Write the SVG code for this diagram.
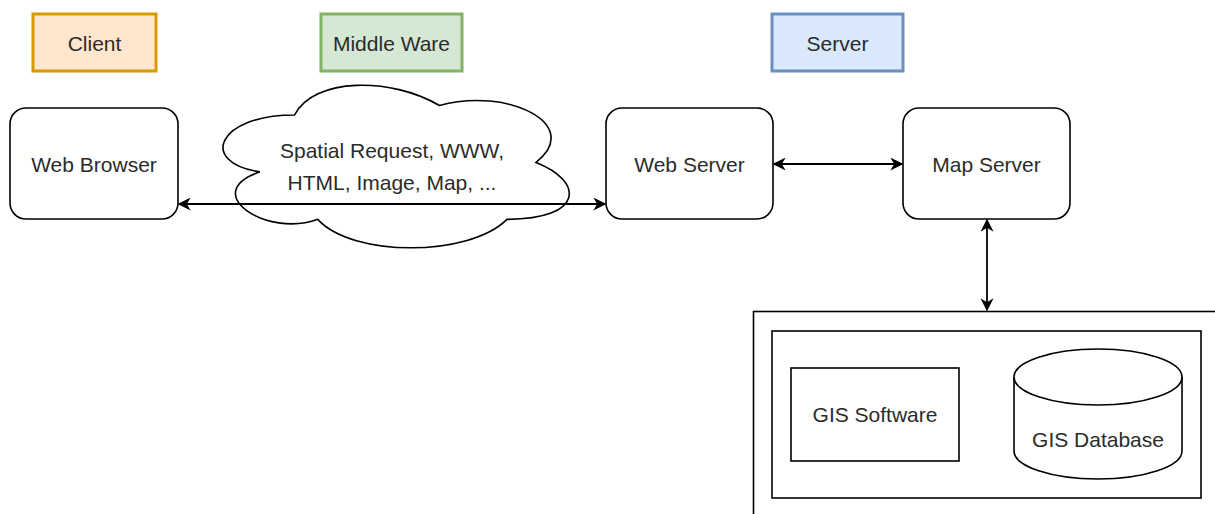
<svg xmlns="http://www.w3.org/2000/svg" width="1215" height="514" viewBox="0 0 1215 514">
  <style>
    text { font-family: "Liberation Sans", Arial, sans-serif; font-size: 21px; fill: #2b2b2b; text-anchor: middle; dominant-baseline: central; }
    .node { fill: #ffffff; stroke: #000000; stroke-width: 1.6; }
    .legend { stroke-width: 3; }
    .edge { fill: none; stroke: #000000; stroke-width: 1.8; }
  </style>
  <defs>
    <marker id="arrow" viewBox="0 0 10 10" refX="9" refY="5" markerWidth="13" markerHeight="13" markerUnits="userSpaceOnUse" orient="auto-start-reverse">
      <path d="M0,0 L10,5 L0,10 L3,5 Z" fill="#000000"/>
    </marker>
  </defs>
  <rect width="1215" height="514" fill="#ffffff"/>

  <!-- Tier legend -->
  <g id="legend-client">
    <rect class="legend" x="33" y="14" width="123" height="57" fill="#ffe6cc" stroke="#d79b00"/>
    <text x="94.5" y="43">Client</text>
  </g>
  <g id="legend-middleware">
    <rect class="legend" x="321" y="14" width="141" height="57" fill="#d5e8d4" stroke="#82b366"/>
    <text x="391.5" y="43">Middle Ware</text>
  </g>
  <g id="legend-server">
    <rect class="legend" x="772" y="14" width="131" height="57" fill="#dae8fc" stroke="#6c8ebf"/>
    <text x="837.5" y="43">Server</text>
  </g>

  <!-- Main nodes -->
  <g id="web-browser">
    <rect class="node" x="10" y="108" width="168" height="111" rx="16"/>
    <text x="94" y="164">Web Browser</text>
  </g>
  <g id="middleware-cloud">
    <path class="node" vector-effect="non-scaling-stroke" transform="translate(395,166.5) scale(1.104,1.164) translate(-398.5,-170)" d="M307.5,125.75 C237.5,125.75 220,166.5 276,174.65 C220,192.58 283,231.7 328.5,215.4 C360,248 465,248 500,215.4 C570,215.4 570,182.8 526.25,166.5 C570,133.9 500,101.3 438.75,117.6 C395,93.15 325,93.15 307.5,125.75 Z"/>
    <text x="392" y="150">Spatial Request, WWW,</text>
    <text x="392" y="182">HTML, Image, Map, ...</text>
  </g>
  <g id="web-server">
    <rect class="node" x="606" y="108" width="167" height="111" rx="16"/>
    <text x="689.5" y="164">Web Server</text>
  </g>
  <g id="map-server">
    <rect class="node" x="903" y="108" width="167" height="111" rx="16"/>
    <text x="986.5" y="164">Map Server</text>
  </g>

  <!-- GIS back end -->
  <g id="gis-host">
    <rect class="node" x="753.5" y="311.5" width="480" height="220"/>
  </g>
  <g id="gis-group">
    <rect class="node" x="772" y="331" width="429" height="167"/>
  </g>
  <g id="gis-software">
    <rect class="node" x="791" y="368" width="168" height="93"/>
    <text x="875" y="414">GIS Software</text>
  </g>
  <g id="gis-database">
    <path class="node" d="M1014,377 A84,28 0 0 1 1182,377 L1182,451 A84,28 0 0 1 1014,451 Z"/>
    <path class="node" fill="none" d="M1014,377 A84,28 0 0 0 1182,377"/>
    <text x="1098" y="439">GIS Database</text>
  </g>

  <!-- Connectors -->
  <g id="connectors">
    <path class="edge" d="M179,204 L605,204" marker-start="url(#arrow)" marker-end="url(#arrow)"/>
    <path class="edge" d="M774,164 L902,164" marker-start="url(#arrow)" marker-end="url(#arrow)"/>
    <path class="edge" d="M987,220 L987,310" marker-start="url(#arrow)" marker-end="url(#arrow)"/>
  </g>
</svg>
